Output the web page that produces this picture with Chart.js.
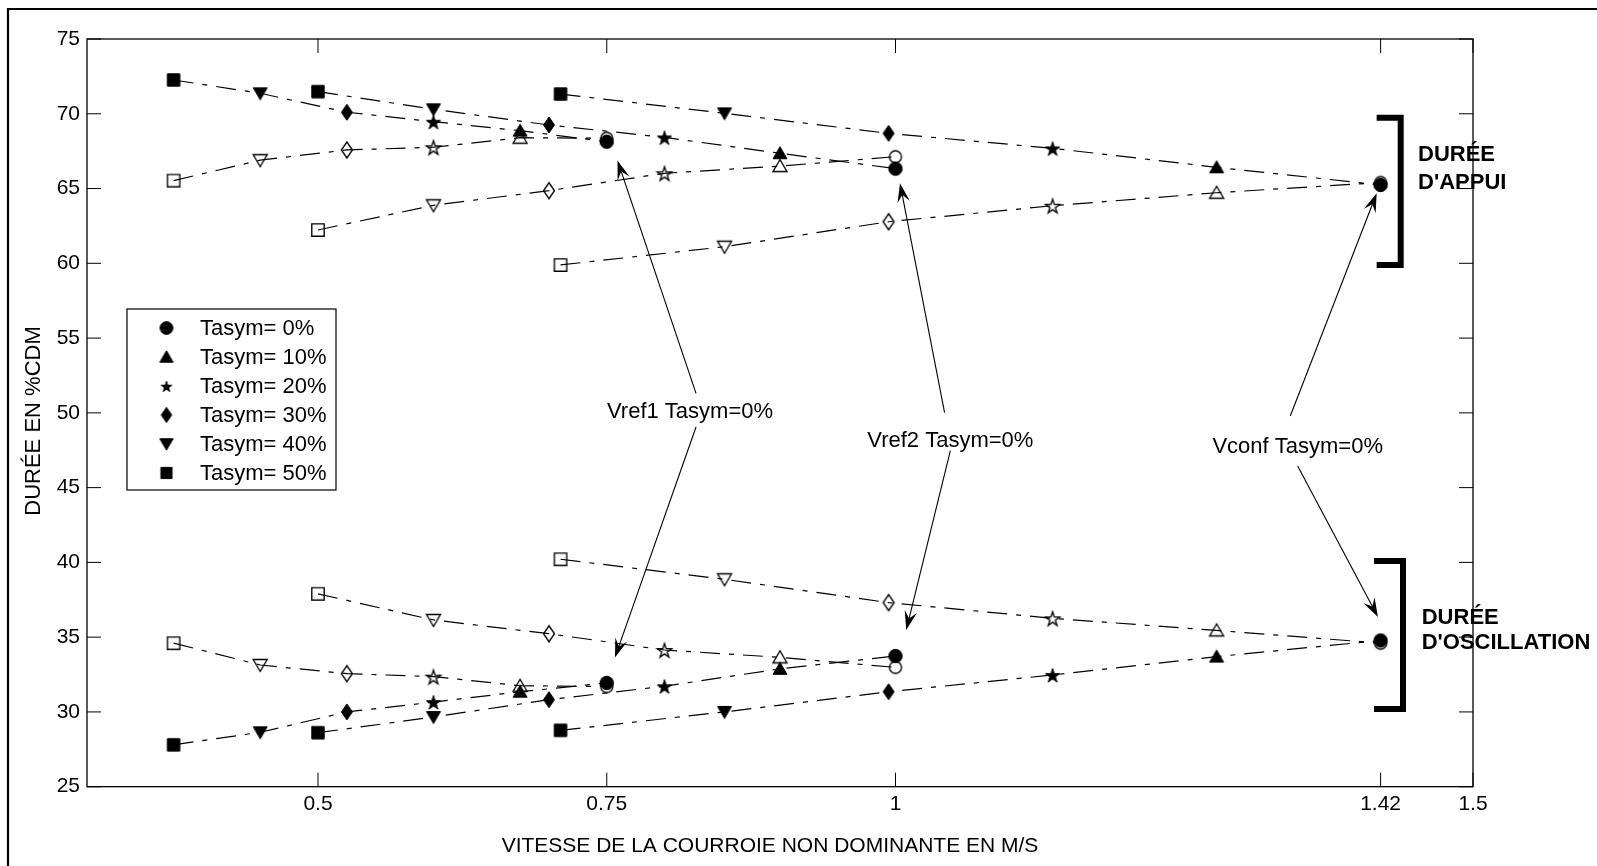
<!DOCTYPE html>
<html><head><meta charset="utf-8">
<script src="https://cdn.jsdelivr.net/npm/chart.js@4.4.1/dist/chart.umd.min.js"></script>
<style>html,body{margin:0;padding:0;background:#fff;overflow:hidden}#wrap{width:1597px;height:866px;position:relative}canvas{display:block}</style>
</head><body><div id="wrap"><canvas id="c" width="1597" height="866"></canvas></div>
<script>
// ---------- DATA ----------
const tasymLabels = ['Tasym= 0%', 'Tasym= 10%', 'Tasym= 20%', 'Tasym= 30%', 'Tasym= 40%', 'Tasym= 50%'];
const markerShapes = ['circle', 'triangleUp', 'pentagram', 'diamond', 'triangleDown', 'square'];

// non-dominant belt speed (m/s) per Tasym (0% ... 50%)
const speedVref1 = [0.75, 0.675, 0.6, 0.525, 0.45, 0.375];
const speedVref2 = [1.0, 0.9, 0.8, 0.7, 0.6, 0.5];
const speedVconf = [1.42, 1.278, 1.136, 0.994, 0.852, 0.71];

// stance duration (%CDM) – filled = one leg, open = other leg
const stanceVref1Filled = [68.13, 68.87, 69.47, 70.10, 71.37, 72.26];
const stanceVref1Open   = [68.36, 68.40, 67.76, 67.58, 66.90, 65.53];
const stanceVref2Filled = [66.33, 67.36, 68.42, 69.25, 70.30, 71.48];
const stanceVref2Open   = [67.13, 66.50, 66.02, 64.86, 63.88, 62.23];
const stanceVconfFilled = [65.24, 66.42, 67.69, 68.69, 70.03, 71.32];
const stanceVconfOpen   = [65.40, 64.72, 63.85, 62.78, 61.11, 59.89];

// swing duration (%CDM)
const swingVref1Filled = [31.94, 31.35, 30.66, 30.00, 28.64, 27.80];
const swingVref1Open   = [31.70, 31.75, 32.36, 32.56, 33.14, 34.60];
const swingVref2Filled = [33.74, 32.88, 31.72, 30.82, 29.66, 28.61];
const swingVref2Open   = [32.98, 33.65, 34.14, 35.23, 36.15, 37.90];
const swingVconfFilled = [34.78, 33.70, 32.47, 31.35, 30.00, 28.77];
const swingVconfOpen   = [34.60, 35.45, 36.26, 37.31, 38.87, 40.21];

const xTickValues = [0.5, 0.75, 1, 1.42, 1.5];
const xTickLabels = ['0.5', '0.75', '1', '1.42', '1.5'];

const xAxisTitle = 'VITESSE DE LA COURROIE NON DOMINANTE EN M/S';
const yAxisTitle = 'DURÉE EN %CDM';
const arrowLabels = ['Vref1 Tasym=0%', 'Vref2 Tasym=0%', 'Vconf Tasym=0%'];
const bracketLabels = [['DURÉE', "D'APPUI"], ['DURÉE', "D'OSCILLATION"]];

// ---------- annotation geometry (in data units) ----------
const annotLabelPos = [[0.8221, 50.05], [1.0475, 48.14], [1.3482, 47.74]];
const annotArrows = [
  [0.8273, 51.30, 0.7593, 66.88], [0.8273, 49.05, 0.7571, 33.64],
  [1.0425, 50.01, 1.0039, 65.35], [1.0475, 47.47, 1.0093, 35.48],
  [1.3418, 49.79, 1.4166, 64.68], [1.3482, 46.45, 1.4177, 36.35]
];
const bracketGeom = [[1.4166, 1.4374, 59.89, 69.74], [1.4143, 1.4394, 30.20, 40.09]];
const bracketTextPos = [[1.4524, 67.24, 65.37], [1.4556, 36.30, 34.62]];

// ---------- marker images ----------
function makeMarker(shape, filled, k) {
  k = k || 1;
  const S = 26, c = S / 2;
  const cv = document.createElement('canvas');
  cv.width = S; cv.height = S;
  const g = cv.getContext('2d');
  g.lineWidth = filled ? 1 : 1.35; g.strokeStyle = '#000'; g.fillStyle = '#000'; g.lineJoin = 'miter';
  g.beginPath();
  if (shape === 'circle') {
    g.arc(c, c, (filled ? 6.7 : 6.0) * k, 0, Math.PI * 2);
  } else if (shape === 'triangleUp') {
    g.moveTo(c, c - 6.5 * k); g.lineTo(c + 7 * k, c + 5.5 * k); g.lineTo(c - 7 * k, c + 5.5 * k); g.closePath();
  } else if (shape === 'triangleDown') {
    g.moveTo(c, c + 6.5 * k); g.lineTo(c + 7 * k, c - 5.5 * k); g.lineTo(c - 7 * k, c - 5.5 * k); g.closePath();
  } else if (shape === 'diamond') {
    g.moveTo(c, c - 8 * k); g.lineTo(c + 5.5 * k, c); g.lineTo(c, c + 8 * k); g.lineTo(c - 5.5 * k, c); g.closePath();
  } else if (shape === 'square') {
    g.rect(c - 6.2 * k, c - 6.2 * k, 12.4 * k, 12.4 * k);
  } else if (shape === 'pentagram') {
    const R = 7.5 * k, r = R * 0.382;
    for (let i = 0; i < 10; i++) {
      const a = -Math.PI / 2 + i * Math.PI / 5;
      const rr = i % 2 === 0 ? R : r;
      const px = c + rr * Math.cos(a), py = c + 1 + rr * Math.sin(a);
      if (i === 0) g.moveTo(px, py); else g.lineTo(px, py);
    }
    g.closePath();
  }
  if (filled) { g.fill(); }
  g.stroke();
  return cv;
}
const filledMarkers = markerShapes.map(s => makeMarker(s, true));
const openMarkers = markerShapes.map(s => makeMarker(s, false));
const legendMarkers = markerShapes.map(s => makeMarker(s, true, s === 'pentagram' ? 0.75 : (s === 'square' ? 0.9 : 0.95)));

// ---------- datasets ----------
const seriesDefs = [
  ['Vref1 appui (plein)', speedVref1, stanceVref1Filled, true],
  ['Vref1 appui (vide)', speedVref1, stanceVref1Open, false],
  ['Vref2 appui (plein)', speedVref2, stanceVref2Filled, true],
  ['Vref2 appui (vide)', speedVref2, stanceVref2Open, false],
  ['Vconf appui (plein)', speedVconf, stanceVconfFilled, true],
  ['Vconf appui (vide)', speedVconf, stanceVconfOpen, false],
  ['Vref1 oscillation (plein)', speedVref1, swingVref1Filled, true],
  ['Vref1 oscillation (vide)', speedVref1, swingVref1Open, false],
  ['Vref2 oscillation (plein)', speedVref2, swingVref2Filled, true],
  ['Vref2 oscillation (vide)', speedVref2, swingVref2Open, false],
  ['Vconf oscillation (plein)', speedVconf, swingVconfFilled, true],
  ['Vconf oscillation (vide)', speedVconf, swingVconfOpen, false]
];
const datasets = seriesDefs.map(([label, xs, ys, filled]) => {
  const idx = xs.map((_, i) => i).reverse(); // draw from low speed (50%) to high speed (0%)
  return {
    label,
    data: idx.map(i => ({ x: xs[i], y: ys[i] })),
    pointStyle: idx.map(i => (filled ? filledMarkers : openMarkers)[i]),
    pointRadius: 7,
    showLine: true,
    borderColor: '#000',
    borderWidth: 1.2,
    borderDash: [20, 9, 5, 9],
    backgroundColor: '#000',
    fill: false,
    tension: 0
  };
});

const FONT = '"Liberation Sans", Arial, sans-serif';

const decorPlugin = {
  id: 'decor',
  beforeDraw(chart) {
    const ctx = chart.ctx;
    ctx.save(); ctx.fillStyle = '#fff'; ctx.fillRect(0, 0, chart.width, chart.height); ctx.restore();
  },
  afterDraw(chart) {
    const ctx = chart.ctx, xs = chart.scales.x, ys = chart.scales.y, a = chart.chartArea;
    const X = v => xs.getPixelForValue(v), Y = v => ys.getPixelForValue(v);
    ctx.save();
    // outer figure border (top + left)
    ctx.strokeStyle = '#000'; ctx.lineWidth = 2.2;
    ctx.beginPath(); ctx.moveTo(8, chart.height + 5); ctx.lineTo(8, 9); ctx.lineTo(chart.width + 5, 9); ctx.stroke();
    // plot frame
    ctx.lineWidth = 1.3;
    ctx.strokeRect(a.left, a.top, a.right - a.left, a.bottom - a.top);
    // inward ticks
    const TL = 14;
    ctx.lineWidth = 1;
    ctx.beginPath();
    ys.ticks.forEach(t => {
      const py = Y(t.value);
      ctx.moveTo(a.left, py); ctx.lineTo(a.left + TL, py);
      ctx.moveTo(a.right, py); ctx.lineTo(a.right - TL, py);
    });
    xs.ticks.forEach(t => {
      const px = X(t.value);
      ctx.moveTo(px, a.bottom); ctx.lineTo(px, a.bottom - TL);
      ctx.moveTo(px, a.top); ctx.lineTo(px, a.top + TL);
    });
    ctx.stroke();

    // axis titles
    ctx.fillStyle = '#000';
    ctx.textAlign = 'center'; ctx.textBaseline = 'middle';
    ctx.font = '21px ' + FONT;
    ctx.fillText(xAxisTitle, 770, 846);
    ctx.save();
    ctx.translate(34, 421); ctx.rotate(-Math.PI / 2);
    ctx.font = '22px ' + FONT;
    ctx.fillText(yAxisTitle, 0, 0);
    ctx.restore();

    // arrows
    ctx.lineWidth = 1.1; ctx.fillStyle = '#000';
    annotArrows.forEach(([x0, y0, x1, y1]) => {
      const sx = X(x0), sy = Y(y0), tx = X(x1), ty = Y(y1);
      const dx = tx - sx, dy = ty - sy, d = Math.hypot(dx, dy), ux = dx / d, uy = dy / d, nx = -uy, ny = ux;
      const L = 19, W = 12.5;
      const nbx = tx - ux * L * 0.62, nby = ty - uy * L * 0.62;
      ctx.beginPath(); ctx.moveTo(sx, sy); ctx.lineTo(nbx, nby); ctx.stroke();
      ctx.beginPath();
      ctx.moveTo(tx, ty);
      ctx.lineTo(tx - ux * L + nx * W / 2, ty - uy * L + ny * W / 2);
      ctx.lineTo(nbx, nby);
      ctx.lineTo(tx - ux * L - nx * W / 2, ty - uy * L - ny * W / 2);
      ctx.closePath(); ctx.fill();
    });
    // arrow labels
    ctx.font = '22px ' + FONT; ctx.textAlign = 'center'; ctx.textBaseline = 'middle';
    arrowLabels.forEach((s, i) => ctx.fillText(s, X(annotLabelPos[i][0]), Y(annotLabelPos[i][1])));

    // brackets
    ctx.lineWidth = 6; ctx.lineCap = 'butt'; ctx.lineJoin = 'miter';
    bracketGeom.forEach(([xl, xr, yb, yt]) => {
      ctx.beginPath();
      ctx.moveTo(X(xl), Y(yt)); ctx.lineTo(X(xr), Y(yt)); ctx.lineTo(X(xr), Y(yb)); ctx.lineTo(X(xl), Y(yb));
      ctx.stroke();
    });
    ctx.font = 'bold 22px ' + FONT; ctx.textAlign = 'left';
    bracketLabels.forEach((lines, i) => {
      const p = bracketTextPos[i];
      ctx.fillText(lines[0], X(p[0]), Y(p[1]));
      ctx.fillText(lines[1], X(p[0]), Y(p[2]));
    });

    // legend
    const lx = 127, ly = 309, lw = 209, lh = 181;
    ctx.fillStyle = '#fff'; ctx.fillRect(lx, ly, lw, lh);
    ctx.lineWidth = 1.2; ctx.strokeStyle = '#000'; ctx.strokeRect(lx, ly, lw, lh);
    ctx.fillStyle = '#000'; ctx.font = '22px ' + FONT; ctx.textAlign = 'left'; ctx.textBaseline = 'middle';
    tasymLabels.forEach((s, i) => {
      const ry = ly + 19 + i * 29;
      const m = legendMarkers[i];
      ctx.drawImage(m, 166.5 - m.width / 2, ry - m.height / 2);
      ctx.fillText(s, 200, ry + 1);
    });
    ctx.restore();
  }
};

new Chart(document.getElementById('c'), {
  type: 'scatter',
  data: { datasets },
  options: {
    responsive: false,
    devicePixelRatio: 1,
    animation: false,
    events: [],
    layout: { padding: { top: 39, right: 124, left: 0, bottom: 0 } },
    plugins: { legend: { display: false }, tooltip: { enabled: false } },
    scales: {
      x: {
        type: 'linear', min: 0.3, max: 1.5,
        afterBuildTicks: s => { s.ticks = xTickValues.map(v => ({ value: v })); },
        afterFit: s => { s.height = 79.3; },
        ticks: {
          autoSkip: false, maxRotation: 0, padding: 5, color: '#000',
          font: { family: FONT, size: 21 },
          callback: (v) => { const i = xTickValues.indexOf(v); return i >= 0 ? xTickLabels[i] : ''; }
        },
        grid: { display: false, drawTicks: false },
        border: { display: false },
        title: { display: false, text: xAxisTitle }
      },
      y: {
        type: 'linear', min: 25, max: 75,
        afterFit: s => { s.width = 87; },
        ticks: { stepSize: 5, padding: 7, color: '#000', font: { family: FONT, size: 21 } },
        grid: { display: false, drawTicks: false },
        border: { display: false },
        title: { display: false, text: yAxisTitle }
      }
    }
  },
  plugins: [decorPlugin]
});
</script>
</body></html>
